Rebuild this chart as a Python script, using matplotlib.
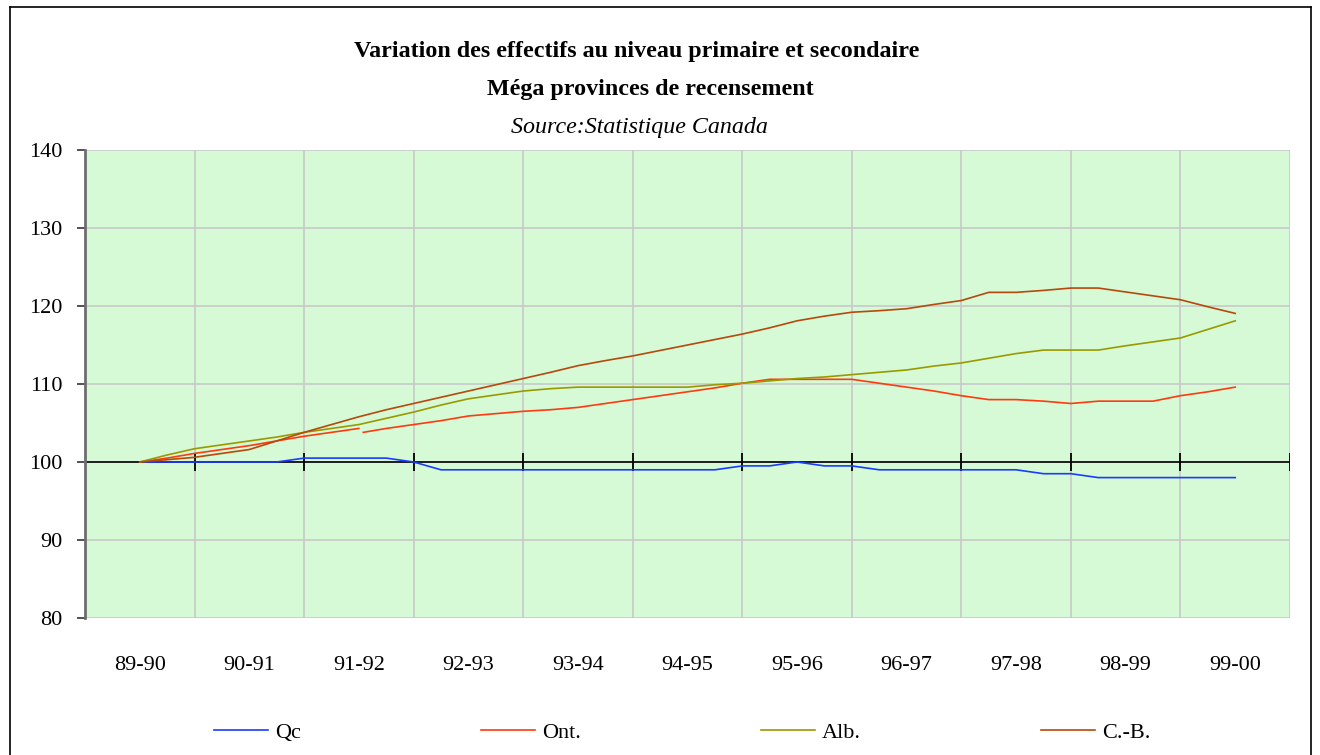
import numpy as np
import matplotlib
matplotlib.use('Agg')
import matplotlib.pyplot as plt
from matplotlib.lines import Line2D

plt.rcParams['font.family'] = ['Liberation Serif', 'DejaVu Serif']

# categories (school years) and the series, read at quarter steps
years = ['89-90', '90-91', '91-92', '92-93', '93-94', '94-95',
         '95-96', '96-97', '97-98', '98-99', '99-00']
steps = np.arange(41) / 4.0

qc = [100, 100, 100, 100, 100, 100, 100.5, 100.5, 100.5, 100.5,
      100, 99, 99, 99, 99, 99, 99, 99, 99, 99,
      99, 99, 99.5, 99.5, 100, 99.5, 99.5, 99, 99, 99,
      99, 99, 99, 98.5, 98.5, 98, 98, 98, 98, 98, 98]
ont = [100, 100.5, 101.1, 101.6, 102.1, 102.7, 103.3, 103.8, 104.3, 104.3,
       104.8, 105.3, 105.9, 106.2, 106.5, 106.7, 107.0, 107.5, 108.0, 108.5,
       109.0, 109.5, 110.1, 110.6, 110.6, 110.6, 110.6, 110.1, 109.6, 109.1,
       108.5, 108.0, 108.0, 107.8, 107.5, 107.8, 107.8, 107.8, 108.5, 109.0, 109.6]
ont_restart = (2.04, 103.8)   # the Ontario line breaks just after 91-92
alb = [100, 100.9, 101.7, 102.2, 102.7, 103.2, 103.8, 104.3, 104.8, 105.6,
       106.4, 107.3, 108.1, 108.6, 109.1, 109.4, 109.6, 109.6, 109.6, 109.6,
       109.6, 109.9, 110.1, 110.4, 110.7, 110.9, 111.2, 111.5, 111.8, 112.3,
       112.7, 113.3, 113.9, 114.35, 114.35, 114.35, 114.9, 115.4, 115.9, 117.0, 118.1]
cb = [100, 100.3, 100.6, 101.1, 101.6, 102.7, 103.8, 104.8, 105.8, 106.7,
      107.5, 108.3, 109.1, 109.9, 110.7, 111.5, 112.35, 113.0, 113.6, 114.3,
      115.0, 115.7, 116.4, 117.2, 118.1, 118.7, 119.2, 119.4, 119.65, 120.2,
      120.7, 121.75, 121.75, 122.0, 122.3, 122.3, 121.8, 121.3, 120.8, 119.9, 119.05]

c_qc, c_ont, c_alb, c_cb = '#1a3cff', '#ff3a10', '#9a9a00', '#b8480c'

fig = plt.figure(figsize=(13.2, 7.55), dpi=100)
ax = fig.add_axes([85 / 1320, 137 / 755, 1205 / 1320, 468 / 755])
ax.set_facecolor('#d5fad5')

ax.set_xlim(-0.5, 10.5)
ax.set_ylim(80, 140)

# grid
bounds = np.arange(-0.5, 11, 1.0)
for y in range(80, 141, 10):
    ax.axhline(y, color='#c8c8c8', lw=1.2, zorder=1)
for b in bounds[1:]:
    ax.axvline(b, color='#c8c8c8', lw=1.2, zorder=1)

# category axis crossing at 100
ax.axhline(100, color='black', lw=1.2, zorder=2)
ax.vlines(bounds, 98.9, 101.2, color='black', lw=1.3, zorder=2)

lw = 1.2
ax.plot(steps, qc, color=c_qc, lw=lw, zorder=3, label='Qc')
ax.plot(steps[:9], ont[:9], color=c_ont, lw=lw, zorder=3, label='Ont.')
ax.plot(np.r_[ont_restart[0], steps[9:]], np.r_[ont_restart[1], ont[9:]],
        color=c_ont, lw=lw, zorder=3)
ax.plot(steps, alb, color=c_alb, lw=lw, zorder=3, label='Alb.')
ax.plot(steps, cb, color=c_cb, lw=lw, zorder=3, label='C.-B.')

for s in ['top', 'right', 'bottom']:
    ax.spines[s].set_visible(False)
ax.spines['left'].set_color('#6e6e6e')
ax.spines['left'].set_linewidth(2)

ax.set_yticks(range(80, 141, 10))
ax.tick_params(axis='y', direction='out', length=6, width=1.3, color='#444444',
               labelsize=16, pad=10)
ax.set_xticks(range(len(years)))
ax.set_xticklabels(years)
ax.tick_params(axis='x', length=0, labelsize=16, pad=27)

# titles
fig.text(637 / 1320, 1 - 57 / 755, 'Variation des effectifs au niveau primaire et secondaire',
         ha='center', va='baseline', fontsize=17.3, fontweight='bold')
fig.text(650 / 1320, 1 - 95 / 755, 'Méga provinces de recensement',
         ha='center', va='baseline', fontsize=17.3, fontweight='bold')
fig.text(639 / 1320, 1 - 133 / 755, 'Source:Statistique Canada',
         ha='center', va='baseline', fontsize=17.3, style='italic')

# legend
handles = [Line2D([], [], color=c, lw=lw) for c in (c_qc, c_ont, c_alb, c_cb)]
fig.legend(handles, ['Qc', 'Ont.', 'Alb.', 'C.-B.'], ncol=4, loc='center',
           bbox_to_anchor=(682 / 1320, 1 - 733 / 755), frameon=False, fontsize=16,
           handlelength=2.45, handletextpad=0.3, columnspacing=8.1)

# chart border
for xs, ys in [((10, 10), (0, 748)), ((10, 1311), (748, 748)), ((1311, 1311), (748, 0))]:
    fig.add_artist(Line2D(np.array(xs) / 1320, np.array(ys) / 755,
                          color='black', lw=1.2, transform=fig.transFigure))

fig.savefig('out.png', dpi=100)
